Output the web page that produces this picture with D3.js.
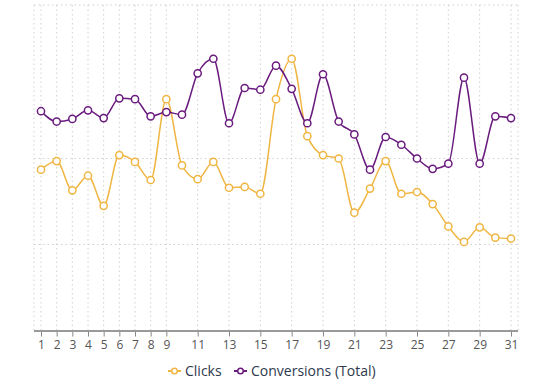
<!DOCTYPE html>
<html><head><meta charset="utf-8">
<script src="https://cdn.jsdelivr.net/npm/d3@7"></script>
<style>
body{margin:0;background:#fff;font-family:"Open Sans",sans-serif;}
</style></head>
<body><svg id="c" width="553" height="382"></svg>
<script>
const days = d3.range(1, 32);
const tickLabels = [1,2,3,4,5,6,7,8,9,11,13,15,17,19,21,23,25,27,29,31];
const clicks = [187,197,163,180,145,204,196,175,269,192,176,196,166,167,159,269,316,226,204,200,137,165,197,159,161,147,121,103,120,108,107];
const conversions = [25.5,24.3,24.6,25.6,24.7,27.0,26.9,24.9,25.4,25.1,29.9,31.6,24.1,28.2,28.0,30.8,28.1,24.1,29.8,24.3,22.8,18.7,22.5,21.6,20.0,18.8,19.4,29.4,19.4,24.9,24.7];
const clickGrid = [100, 200];
const seriesNames = ["Clicks", "Conversions (Total)"];
const colors = ["#f0b643", "#6a1b7e"];

(function(){
const svg = d3.select("#c");
const pLeft = 34, pRight = 518, pTop = 5, pBottom = 330.5;
const x = d3.scaleLinear().domain([1, 31]).range([41, 511]);
const yC = d3.scaleLinear().domain([0, 378.5]).range([pBottom, pTop]);
const yV = d3.scaleLinear().domain([0, 37.85]).range([pBottom, pTop]);

const g = svg.append("g");
const vgrid = [pLeft, ...tickLabels.map(d => x(d)), pRight];
g.selectAll(".vg").data(vgrid).enter().append("line")
  .attr("x1", d => d).attr("x2", d => d).attr("y1", pTop).attr("y2", pBottom)
  .attr("stroke", "#d0d0d0").attr("stroke-width", 1).attr("stroke-dasharray", "1.5,3");
g.selectAll(".hg").data([...clickGrid.map(d => yC(d)), pTop]).enter().append("line")
  .attr("x1", pLeft).attr("x2", pRight).attr("y1", d => d).attr("y2", d => d)
  .attr("stroke", "#d0d0d0").attr("stroke-width", 1).attr("stroke-dasharray", "1.5,3");

const xAxis = d3.axisBottom(x).tickValues(tickLabels).tickSize(6).tickPadding(4).tickFormat(d3.format("d"));
const ax = svg.append("g").attr("transform", `translate(0,${pBottom})`).call(xAxis);
ax.select(".domain").remove();
ax.append("line").attr("x1", pLeft).attr("x2", pRight).attr("y1", 0.5).attr("y2", 0.5)
  .attr("stroke", "#9a9a9a").attr("stroke-width", 2);
ax.selectAll(".tick line").attr("stroke", "#888");
ax.selectAll(".tick text").attr("fill", "#555").attr("font-size", 12).attr("font-family", "Open Sans");

function drawSeries(vals, y, color) {
  const line = d3.line().x((d, i) => x(days[i])).y(d => y(d)).curve(d3.curveMonotoneX);
  svg.append("path").datum(vals).attr("d", line).attr("fill", "none")
    .attr("stroke", color).attr("stroke-width", 1.5);
  svg.append("g").selectAll("circle").data(vals).enter().append("circle")
    .attr("cx", (d, i) => x(days[i])).attr("cy", d => y(d)).attr("r", 3.6)
    .attr("fill", "#fff").attr("stroke", color).attr("stroke-width", 1.5);
}
drawSeries(clicks, yC, colors[0]);
drawSeries(conversions, yV, colors[1]);

const legend = svg.append("g").attr("transform", "translate(0,371)");
const legendX = [168, 234];
seriesNames.forEach((name, i) => {
  const lg = legend.append("g").attr("transform", `translate(${legendX[i]},0)`);
  lg.append("line").attr("x1", 0).attr("x2", 13).attr("y1", 0).attr("y2", 0)
    .attr("stroke", colors[i]).attr("stroke-width", 2);
  lg.append("circle").attr("cx", 6.5).attr("cy", 0).attr("r", 2.8)
    .attr("fill", "#fff").attr("stroke", colors[i]).attr("stroke-width", 1.5);
  lg.append("text").attr("x", 17).attr("y", 5).text(name)
    .attr("fill", "#2e3a4c").attr("font-size", 14).attr("font-family", "Open Sans");
});
})();
</script></body></html>
